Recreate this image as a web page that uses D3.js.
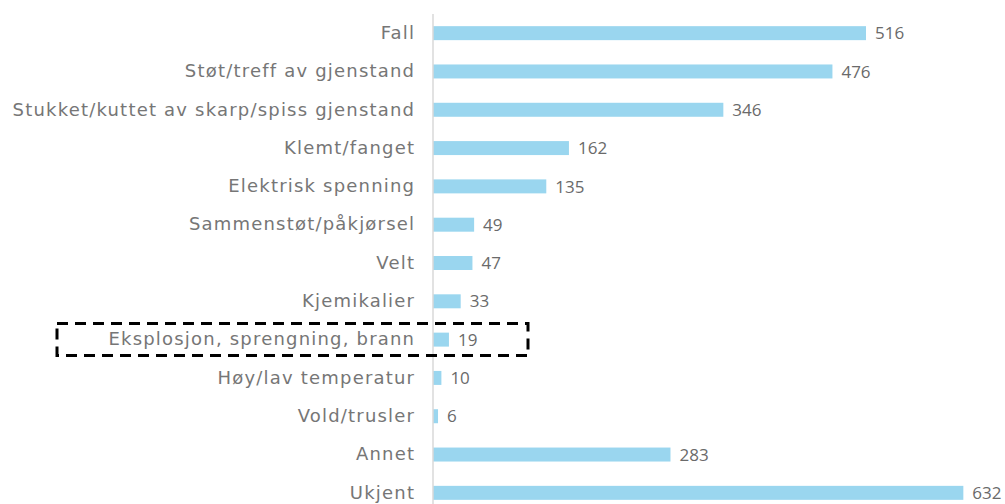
<!DOCTYPE html>
<html><head><meta charset="utf-8">
<script src="https://cdn.jsdelivr.net/npm/d3@7"></script>
<style>body{margin:0;background:#fff;}svg{display:block;}</style>
</head><body>
<script>
const categories = ["Fall","Støt/treff av gjenstand","Stukket/kuttet av skarp/spiss gjenstand","Klemt/fanget","Elektrisk spenning","Sammenstøt/påkjørsel","Velt","Kjemikalier","Eksplosjon, sprengning, brann","Høy/lav temperatur","Vold/trusler","Annet","Ukjent"];
const values = [516,476,346,162,135,49,47,33,19,10,6,283,632];
const highlighted = ["Eksplosjon, sprengning, brann"];

const W = 1005, H = 504;
const svg = d3.select("body").append("svg").attr("width", W).attr("height", H);
const x0 = 433;
const x = d3.scaleLinear().domain([0, 516]).range([x0, 866]);
const y = d3.scaleBand().domain(categories).range([14, 512]).paddingInner(0.635).paddingOuter(0.3175);

svg.selectAll("rect.bar").data(categories).join("rect")
  .attr("class","bar")
  .attr("x", x(0)).attr("y", d => y(d))
  .attr("width", (d,i) => x(values[i]) - x(0))
  .attr("height", y.bandwidth())
  .attr("fill", "#9ad6ef");

svg.append("line").attr("x1", x0).attr("x2", x0).attr("y1", 14).attr("y2", H)
  .attr("stroke", "#d9d9d9").attr("stroke-width", 1.5);

const ls = 1.2;
const yAxis = d3.axisLeft(y).tickSize(0).tickPadding(19 - ls);
const ga = svg.append("g").attr("transform", `translate(${x0},0)`).call(yAxis);
ga.select(".domain").remove();
ga.selectAll("text").attr("font-family","DejaVu Sans, Verdana, sans-serif").attr("font-size","18px")
  .attr("letter-spacing", ls + "px").attr("fill","#767676");

svg.selectAll("text.val").data(categories).join("text")
  .attr("class","val")
  .attr("x", (d,i) => x(values[i]) + 9)
  .attr("y", d => y(d) + y.bandwidth()/2)
  .attr("dy","0.36em")
  .attr("font-family","Open Sans, Liberation Sans, sans-serif")
  .attr("font-size","17px").attr("fill","#6a6a6a")
  .text((d,i) => values[i]);

highlighted.forEach(c => {
  const cy = y(c) + y.bandwidth()/2;
  svg.append("rect").attr("x", 57).attr("y", cy - 16).attr("width", 471).attr("height", 32)
    .attr("fill","none").attr("stroke","#000").attr("stroke-width", 3)
    .attr("stroke-dasharray","11,7");
});
</script>
</body></html>
